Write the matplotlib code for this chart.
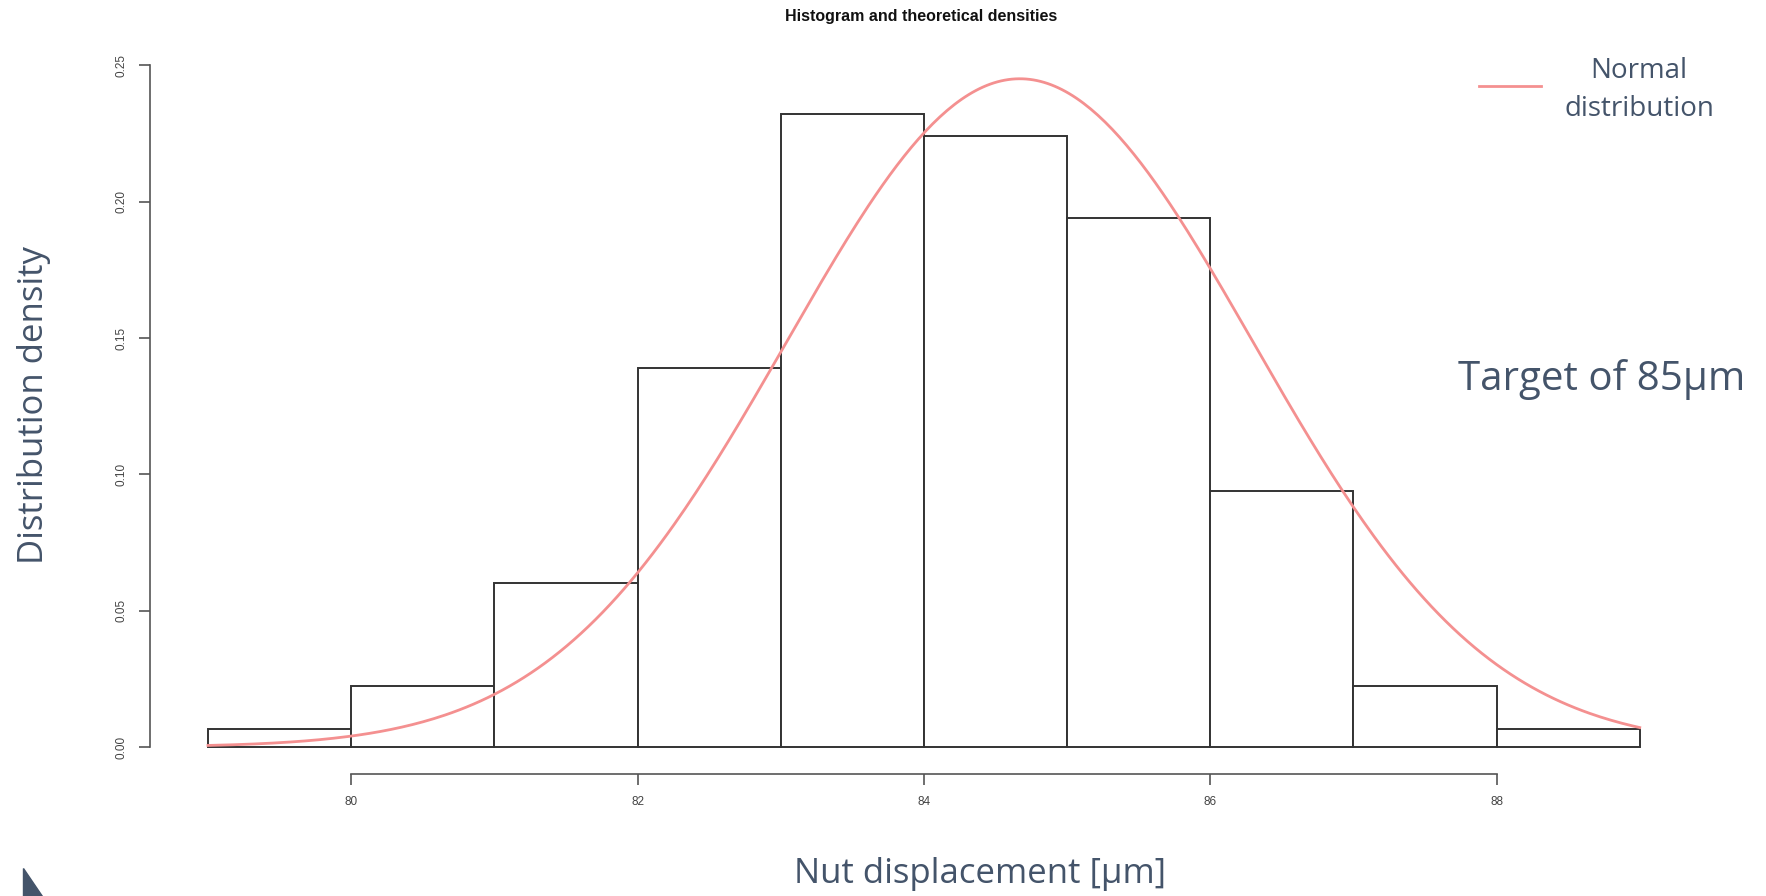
import numpy as np
import matplotlib.pyplot as plt
from matplotlib.patches import Polygon

# Данные гистограммы (плотность по интервалам)
bin_edges = [79, 80, 81, 82, 83, 84, 85, 86, 87, 88, 89]
densities = [0.0066, 0.0223, 0.0603, 0.139, 0.232, 0.224, 0.194, 0.094, 0.0223, 0.0066]

# Параметры нормального распределения
mu = 84.67
sigma = 1.628

x_ticks = [80, 82, 84, 86, 88]
y_ticks = [0.00, 0.05, 0.10, 0.15, 0.20, 0.25]
y_tick_labels = ['0.00', '0.05', '0.10', '0.15', '0.20', '0.25']

W, H = 1766, 896
text_color = '#44546A'

fig = plt.figure(figsize=(W / 100, H / 100), dpi=100)
ax = fig.add_axes([150 / W, (H - 774) / H, (1697 - 150) / W, (774 - 38) / H])

# Гистограмма
ax.bar(bin_edges[:-1], densities, width=np.diff(bin_edges), align='edge',
       facecolor='white', edgecolor='#333333', linewidth=1.4)

# Теоретическая плотность
xs = np.linspace(bin_edges[0], bin_edges[-1], 400)
ys = np.exp(-0.5 * ((xs - mu) / sigma) ** 2) / (sigma * np.sqrt(2 * np.pi))
ax.plot(xs, ys, color='#F49090', linewidth=2)

ax.set_xlim(78.595, 89.4)
ax.set_ylim(-0.0099, 0.26)

for s in ['top', 'right']:
    ax.spines[s].set_visible(False)
ax.spines['left'].set_bounds(0, 0.25)
ax.spines['bottom'].set_bounds(80, 88)
ax.spines['left'].set_color('#555555')
ax.spines['bottom'].set_color('#555555')
ax.spines['left'].set_linewidth(1.2)
ax.spines['bottom'].set_linewidth(1.2)

ax.set_xticks(x_ticks)
ax.set_xticklabels([str(t) for t in x_ticks], fontsize=8.5, color='#444444',
                   family='Liberation Sans')
ax.set_yticks(y_ticks)
ax.set_yticklabels(y_tick_labels, fontsize=8.5, color='#444444', rotation=90,
                   va='center', family='Liberation Sans')
ax.tick_params(axis='both', length=8, width=1.2, color='#555555', pad=8)

fig.text(921 / W, 1 - 17 / H, 'Histogram and theoretical densities', ha='center', va='center',
         fontsize=11.5, fontweight='bold', family='Liberation Sans', color='#111111')

fig.text(34 / W, 1 - 405 / H, 'Distribution density', rotation=90, ha='center', va='center',
         fontsize=25, color=text_color, family='Open Sans')
fig.text(980 / W, 1 - 874 / H, 'Nut displacement [μm]', ha='center', va='center',
         fontsize=25, color=text_color, family='Open Sans')
fig.text(1602 / W, 1 - 380 / H, 'Target of 85μm', ha='center', va='center',
         fontsize=29, color=text_color, family='Open Sans')

# Легенда
fig.add_artist(plt.Line2D([1479 / W, 1541 / W], [1 - 86 / H, 1 - 86 / H],
                          color='#F49090', linewidth=2))
fig.text(1639 / W, 1 - 90 / H, 'Normal\ndistribution', ha='center', va='center',
         fontsize=20, color=text_color, family='Open Sans', linespacing=1.45)

# Декоративный треугольник
fig.add_artist(Polygon([[23 / W, 1 - 868 / H], [23 / W, 0], [42 / W, 0]],
                       closed=True, transform=fig.transFigure, color=text_color))

fig.savefig('out.png', dpi=100)
